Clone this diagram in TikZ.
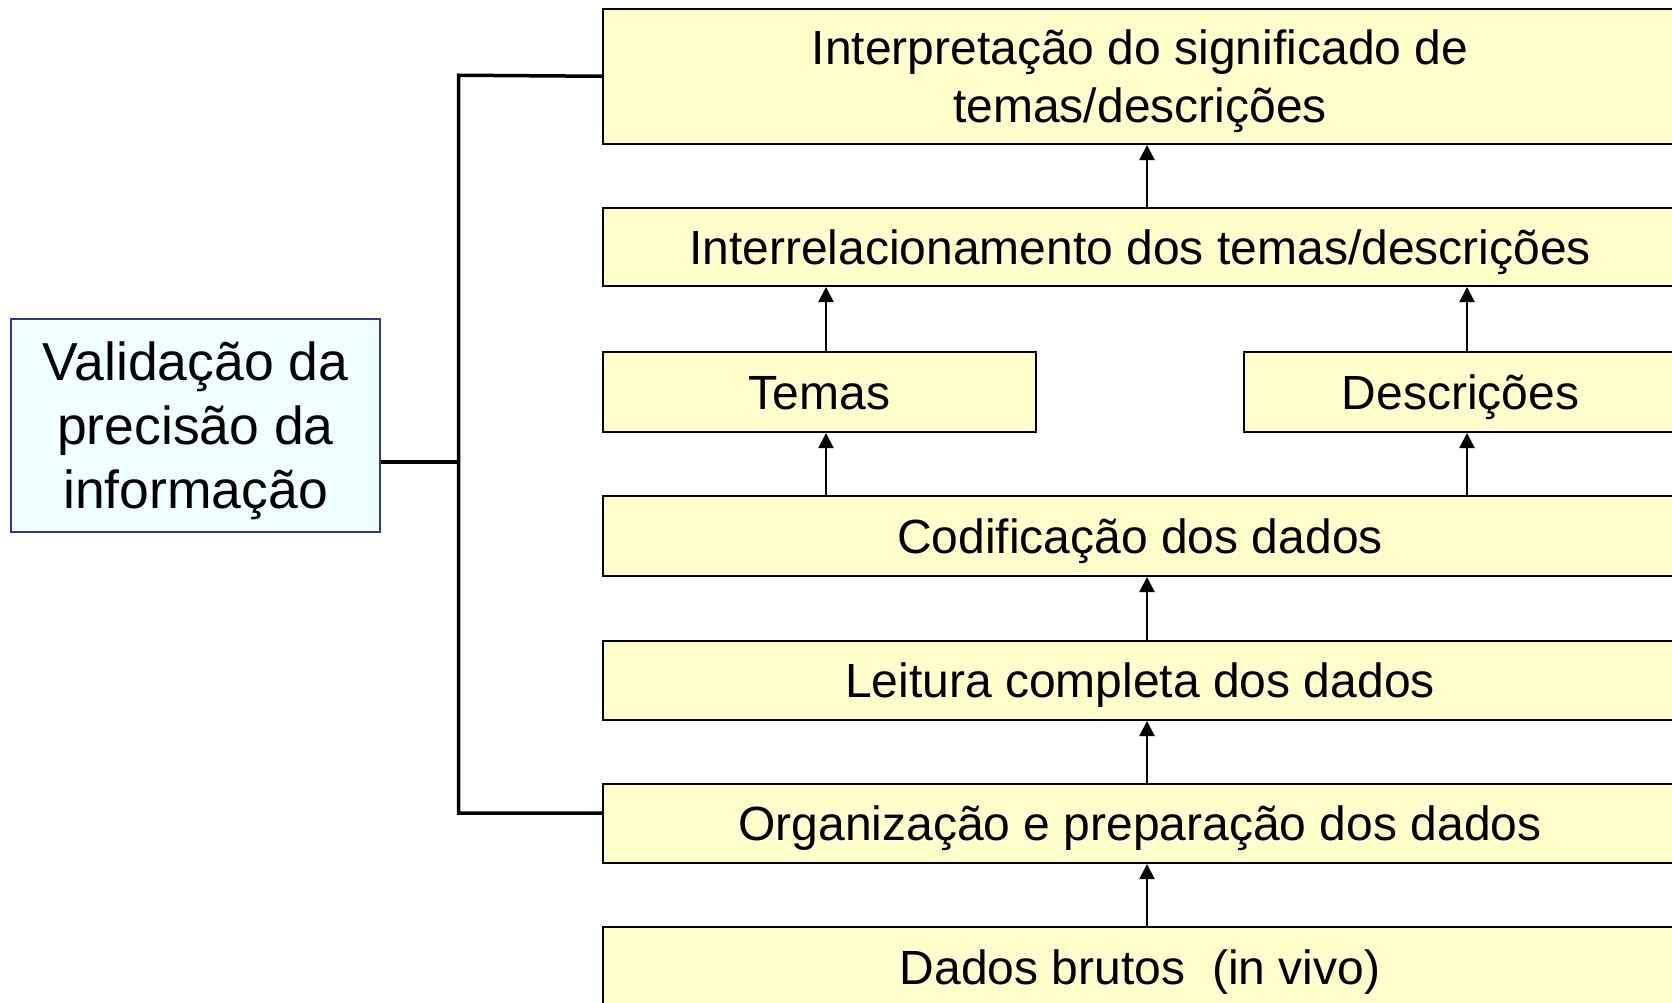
\documentclass[tikz,border=0pt]{standalone}
\usepackage{fontspec}
\setmainfont{Liberation Sans}
\usetikzlibrary{arrows.meta}
\definecolor{boxyellow}{HTML}{FFFFCC}
\definecolor{lbfill}{HTML}{F0FFFF}
\definecolor{lbdraw}{HTML}{3333A0}
\tikzset{
  stepbox/.style={draw=black, line width=2pt, fill=boxyellow, anchor=north west,
    inner sep=0pt, align=center, font=\fontsize{48}{57.6}\selectfont,
    text height=34.4pt, text depth=0pt},
  leftbox/.style={draw=lbdraw, line width=2pt, fill=lbfill, anchor=north west,
    inner sep=0pt, align=center, font=\fontsize{53.5}{64}\selectfont,
    text height=166.3pt, text depth=0pt},
  arr/.style={line width=2pt, -{Triangle[width=15pt,length=15pt]}},
  brack/.style={line width=3.5pt}
}
\begin{document}
\begin{tikzpicture}[x=1pt,y=-1pt]
\useasboundingbox (0,0) rectangle (1672,1002);
\node[stepbox, minimum width=1074pt, minimum height=135.5pt, text height=92pt] (b1) at (602,7.5)
  {Interpretação do significado de\\temas/descrições};
\node[stepbox, minimum width=1074pt, minimum height=78pt] (b2) at (602,207)
  {Interrelacionamento dos temas/descrições};
\node[stepbox, minimum width=433pt, minimum height=80pt] (b3a) at (602,351)
  {Temas};
\node[stepbox, minimum width=433pt, minimum height=80pt] (b3b) at (1243,351)
  {Descrições};
\node[stepbox, minimum width=1074pt, minimum height=80pt] (b4) at (602,495)
  {Codificação dos dados};
\node[stepbox, minimum width=1074pt, minimum height=79pt] (b5) at (602,640)
  {Leitura completa dos dados};
\node[stepbox, minimum width=1074pt, minimum height=79pt] (b6) at (602,783)
  {Organização e preparação dos dados};
\node[stepbox, minimum width=1074pt, minimum height=80pt] (b7) at (602,926)
  {Dados brutos~~(in vivo)};
\node[leftbox, minimum width=369pt, minimum height=213pt] (lb) at (10,318)
  {Validação da\\precisão da\\informação};
% arrow columns
\coordinate (cm) at (1147,0);
\coordinate (ct) at (826,0);
\coordinate (cd) at (1467,0);
\draw[arr] (b7.north -| cm) -- (b6.south -| cm);
\draw[arr] (b6.north -| cm) -- (b5.south -| cm);
\draw[arr] (b5.north -| cm) -- (b4.south -| cm);
\draw[arr] (b4.north -| ct) -- (b3a.south -| ct);
\draw[arr] (b4.north -| cd) -- (b3b.south -| cd);
\draw[arr] (b3a.north -| ct) -- (b2.south -| ct);
\draw[arr] (b3b.north -| cd) -- (b2.south -| cd);
\draw[arr] (b2.north -| cm) -- (b1.south -| cm);
% bracket
\coordinate (jt) at (458.5,75.25);
\coordinate (jb) at (458.5,813);
\coordinate (jm) at (458.5,462);
\draw[brack] (b1.west) -- (jt) -- (jb) -- (b6.west |- jb);
\draw[brack] (lb.east |- jm) -- (jm);
\end{tikzpicture}
\end{document}
